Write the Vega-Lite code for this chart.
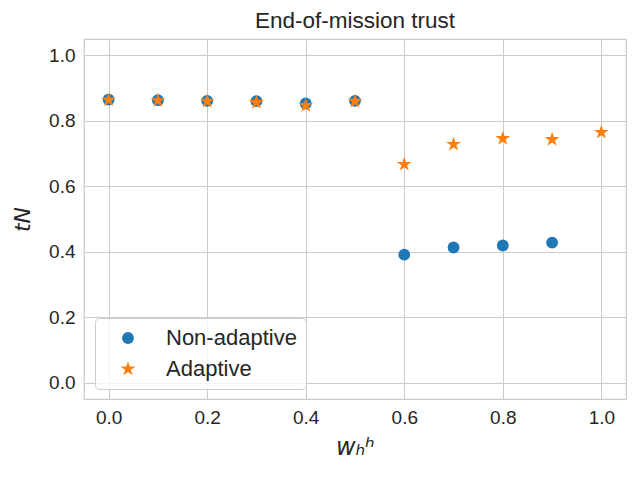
{
  "$schema": "https://vega.github.io/schema/vega-lite/v6.json",
  "autosize": "none",
  "width": 542,
  "height": 360,
  "padding": {"left": 84, "top": 39, "right": 14, "bottom": 81},
  "background": "white",
  "title": {"text": "End-of-mission trust", "fontSize": 22.5, "font": "Liberation Sans", "fontWeight": "normal", "color": "#262626", "offset": 7},
  "config": {
    "view": {"stroke": "#cccccc", "strokeWidth": 1.25},
    "axis": {
      "labelFont": "Liberation Sans",
      "labelFontSize": 19,
      "labelColor": "#262626",
      "titleColor": "#262626",
      "gridColor": "#cccccc",
      "gridWidth": 1,
      "domain": false,
      "ticks": false,
      "labelPadding": 9
    },
    "legend": {
      "labelFont": "Liberation Sans",
      "labelFontSize": 22,
      "labelColor": "#262626"
    }
  },
  "data": {
    "values": [
      {"w": 0.0, "t": 0.865, "series": "Non-adaptive"},
      {"w": 0.1, "t": 0.863, "series": "Non-adaptive"},
      {"w": 0.2, "t": 0.861, "series": "Non-adaptive"},
      {"w": 0.3, "t": 0.860, "series": "Non-adaptive"},
      {"w": 0.4, "t": 0.853, "series": "Non-adaptive"},
      {"w": 0.5, "t": 0.861, "series": "Non-adaptive"},
      {"w": 0.6, "t": 0.391, "series": "Non-adaptive"},
      {"w": 0.7, "t": 0.413, "series": "Non-adaptive"},
      {"w": 0.8, "t": 0.419, "series": "Non-adaptive"},
      {"w": 0.9, "t": 0.428, "series": "Non-adaptive"},
      {"w": 0.0, "t": 0.864, "series": "Adaptive"},
      {"w": 0.1, "t": 0.862, "series": "Adaptive"},
      {"w": 0.2, "t": 0.860, "series": "Adaptive"},
      {"w": 0.3, "t": 0.856, "series": "Adaptive"},
      {"w": 0.4, "t": 0.847, "series": "Adaptive"},
      {"w": 0.5, "t": 0.860, "series": "Adaptive"},
      {"w": 0.6, "t": 0.667, "series": "Adaptive"},
      {"w": 0.7, "t": 0.728, "series": "Adaptive"},
      {"w": 0.8, "t": 0.746, "series": "Adaptive"},
      {"w": 0.9, "t": 0.743, "series": "Adaptive"},
      {"w": 1.0, "t": 0.765, "series": "Adaptive"}
    ]
  },
  "mark": {"type": "point", "filled": true, "opacity": 1},
  "encoding": {
    "x": {
      "field": "w", "type": "quantitative",
      "scale": {"domain": [-0.05, 1.05], "nice": false, "zero": false},
      "axis": {"values": [0, 0.2, 0.4, 0.6, 0.8, 1.0], "format": ".1f", "title": "wₕʰ", "titleFont": "DejaVu Sans", "titleFontStyle": "italic", "titleFontWeight": "normal", "titleFontSize": 24, "titlePadding": 8}
    },
    "y": {
      "field": "t", "type": "quantitative",
      "scale": {"domain": [-0.05, 1.05], "nice": false, "zero": false},
      "axis": {"values": [0, 0.2, 0.4, 0.6, 0.8, 1.0], "format": ".1f", "title": "tN", "titleFont": "DejaVu Sans", "titleFontStyle": "italic", "titleFontWeight": "normal", "titleFontSize": 22, "titlePadding": 14}
    },
    "color": {
      "field": "series", "type": "nominal",
      "scale": {"domain": ["Non-adaptive", "Adaptive"], "range": ["#1f77b4", "#ff7f0e"]},
      "legend": {
        "title": null, "orient": "none", "legendX": 11, "legendY": 279,
        "fillColor": "rgba(255,255,255,0.8)", "strokeColor": "#cccccc", "cornerRadius": 4,
        "padding": 9, "rowPadding": 9, "symbolOffset": 13, "labelOffset": 27,
        "symbolSize": 140
      }
    },
    "shape": {
      "field": "series", "type": "nominal",
      "scale": {"domain": ["Non-adaptive", "Adaptive"], "range": ["circle", "M0,-1L0.2245,-0.309L0.951,-0.309L0.363,0.118L0.588,0.809L0,0.382L-0.588,0.809L-0.363,0.118L-0.951,-0.309L-0.2245,-0.309Z"]},
      "legend": {"title": null}
    },
    "size": {
      "field": "series", "type": "nominal",
      "scale": {"domain": ["Non-adaptive", "Adaptive"], "range": [140, 240]},
      "legend": null
    }
  }
}
